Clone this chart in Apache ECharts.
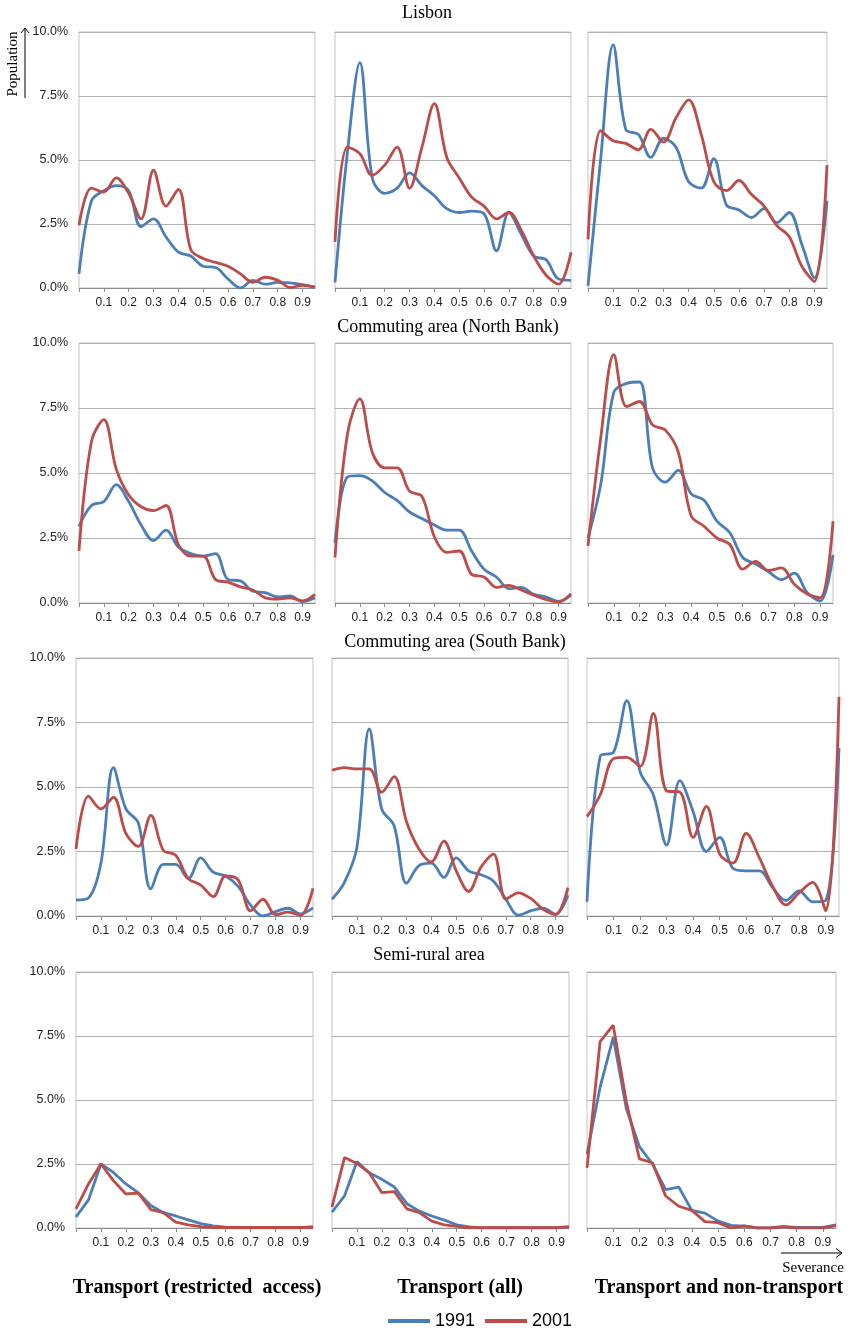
<!DOCTYPE html>
<html>
<head>
<meta charset="utf-8">
<script src="https://cdn.jsdelivr.net/npm/echarts@6/dist/echarts.min.js"></script>
<style>
html,body{margin:0;padding:0;background:#fff;}
#chart{width:853px;height:1330px;}
</style>
</head>
<body>
<div id="chart"></div>
<script>
// Severance classes (x categories)
const severance = [0, 0.05, 0.1, 0.15, 0.2, 0.25, 0.3, 0.35, 0.4, 0.45, 0.5, 0.55, 0.6, 0.65, 0.7, 0.75, 0.8, 0.85, 0.9, 0.95];
const xTickLabels = [0.1, 0.2, 0.3, 0.4, 0.5, 0.6, 0.7, 0.8, 0.9];
const yTicks = [0, 2.5, 5, 7.5, 10];
const years = ['1991', '2001'];
const areaTitles = ['Lisbon', 'Commuting area (North Bank)', 'Commuting area (South Bank)', 'Semi-rural area'];
const columnTitles = ['Transport (restricted  access)', 'Transport (all)', 'Transport and non-transport'];

// Population share (%) per severance class
// Lisbon
const lisbonRestricted1991 = [0.55, 3.4, 3.8, 4.0, 3.8, 2.4, 2.7, 2.0, 1.4, 1.25, 0.85, 0.8, 0.35, 0.0, 0.3, 0.15, 0.22, 0.2, 0.13, 0.03];
const lisbonRestricted2001 = [2.45, 3.9, 3.75, 4.3, 3.7, 2.7, 4.6, 3.2, 3.85, 1.5, 1.15, 1.0, 0.85, 0.55, 0.22, 0.42, 0.3, 0.02, 0.1, 0.03];
const lisbonAll1991 = [0.22, 5.3, 8.8, 4.3, 3.7, 3.9, 4.5, 4.0, 3.6, 3.1, 2.95, 3.0, 2.9, 1.45, 2.95, 2.1, 1.25, 1.1, 0.35, 0.3];
const lisbonAll2001 = [1.8, 5.5, 5.25, 4.4, 4.8, 5.5, 3.9, 5.5, 7.2, 5.1, 4.3, 3.55, 3.2, 2.7, 2.95, 2.25, 1.25, 0.5, 0.15, 1.4];
const lisbonNonT1991 = [0.08, 5.0, 9.5, 6.2, 6.0, 5.1, 5.85, 5.5, 4.15, 3.9, 5.05, 3.25, 3.05, 2.75, 3.1, 2.55, 2.95, 1.7, 0.4, 3.4];
const lisbonNonT2001 = [1.9, 6.15, 5.75, 5.65, 5.4, 6.2, 5.7, 6.65, 7.35, 6.0, 4.15, 3.8, 4.2, 3.65, 3.2, 2.45, 2.0, 0.85, 0.25, 4.8];
// Commuting area (North Bank)
const northRestricted1991 = [2.95, 3.75, 3.9, 4.55, 3.9, 3.0, 2.4, 2.8, 2.15, 1.9, 1.8, 1.9, 0.9, 0.85, 0.45, 0.4, 0.23, 0.27, 0.05, 0.2];
const northRestricted2001 = [2.0, 6.2, 7.05, 5.15, 4.15, 3.7, 3.55, 3.75, 2.25, 1.8, 1.8, 0.9, 0.8, 0.62, 0.5, 0.2, 0.15, 0.2, 0.08, 0.33];
const northAll1991 = [2.3, 4.85, 4.9, 4.7, 4.25, 3.95, 3.5, 3.25, 3.0, 2.8, 2.8, 2.0, 1.3, 1.0, 0.55, 0.6, 0.33, 0.23, 0.06, 0.3];
const northAll2001 = [1.75, 6.5, 7.85, 5.8, 5.2, 5.2, 4.3, 4.1, 2.55, 1.95, 2.0, 1.1, 1.0, 0.6, 0.68, 0.5, 0.3, 0.13, 0.04, 0.36];
const northNonT1991 = [2.5, 4.6, 8.1, 8.45, 8.5, 5.2, 4.65, 5.1, 4.2, 3.95, 3.15, 2.7, 1.75, 1.5, 1.2, 0.9, 1.15, 0.4, 0.08, 1.85];
const northNonT2001 = [2.2, 6.4, 9.55, 7.55, 7.75, 6.85, 6.65, 5.8, 3.35, 2.95, 2.5, 2.25, 1.3, 1.6, 1.25, 1.35, 0.72, 0.35, 0.2, 3.15];
// Commuting area (South Bank)
const southRestricted1991 = [0.62, 0.7, 2.05, 5.75, 4.15, 3.6, 1.05, 2.0, 2.0, 1.45, 2.25, 1.7, 1.55, 1.15, 0.42, 0.0, 0.17, 0.3, 0.08, 0.32];
const southRestricted2001 = [2.6, 4.65, 4.15, 4.6, 3.2, 2.7, 3.9, 2.55, 2.35, 1.45, 1.2, 0.75, 1.55, 1.4, 0.2, 0.65, 0.05, 0.15, 0.03, 1.07];
const southAll1991 = [0.65, 1.3, 2.65, 7.25, 4.15, 3.5, 1.27, 1.95, 2.05, 1.5, 2.25, 1.75, 1.6, 1.35, 0.65, 0.03, 0.2, 0.3, 0.06, 0.8];
const southAll2001 = [5.65, 5.75, 5.7, 5.7, 4.8, 5.4, 3.65, 2.6, 2.1, 2.9, 1.75, 0.95, 1.9, 2.4, 0.65, 0.9, 0.68, 0.26, 0.06, 1.1];
const southNonT1991 = [0.55, 6.2, 6.35, 8.35, 5.6, 4.7, 2.75, 5.25, 4.05, 2.5, 3.05, 1.85, 1.75, 1.75, 1.1, 0.6, 0.97, 0.55, 0.6, 6.5];
const southNonT2001 = [3.85, 4.7, 6.1, 6.15, 5.8, 7.85, 4.85, 4.8, 3.05, 4.25, 2.4, 2.05, 3.2, 2.25, 1.15, 0.43, 0.9, 1.3, 0.2, 8.5];
// Semi-rural area
const ruralRestricted1991 = [0.43, 1.1, 2.5, 2.17, 1.72, 1.37, 0.88, 0.6, 0.47, 0.32, 0.17, 0.08, 0.03, 0.01, 0.01, 0.01, 0.01, 0.01, 0.01, 0.05];
const ruralRestricted2001 = [0.75, 1.72, 2.5, 1.85, 1.33, 1.36, 0.72, 0.6, 0.23, 0.12, 0.05, 0.02, 0.02, 0.02, 0.02, 0.02, 0.02, 0.02, 0.02, 0.02];
const ruralAll1991 = [0.62, 1.25, 2.6, 2.15, 1.9, 1.6, 0.95, 0.66, 0.47, 0.31, 0.12, 0.04, 0.01, 0.01, 0.01, 0.01, 0.01, 0.01, 0.01, 0.04];
const ruralAll2001 = [0.82, 2.75, 2.52, 2.15, 1.38, 1.42, 0.75, 0.6, 0.27, 0.12, 0.06, 0.01, 0.01, 0.01, 0.01, 0.01, 0.01, 0.01, 0.01, 0.04];
const ruralNonT1991 = [2.88, 5.5, 7.45, 4.67, 3.18, 2.5, 1.5, 1.6, 0.69, 0.58, 0.27, 0.1, 0.07, 0.0, 0.0, 0.05, 0.02, 0.02, 0.02, 0.12];
const ruralNonT2001 = [2.35, 7.28, 7.92, 4.93, 2.7, 2.55, 1.25, 0.85, 0.69, 0.25, 0.21, 0.0, 0.08, 0.0, 0.0, 0.05, 0.0, 0.0, 0.0, 0.09];

const panels = [
  [[lisbonRestricted1991, lisbonRestricted2001], [lisbonAll1991, lisbonAll2001], [lisbonNonT1991, lisbonNonT2001]],
  [[northRestricted1991, northRestricted2001], [northAll1991, northAll2001], [northNonT1991, northNonT2001]],
  [[southRestricted1991, southRestricted2001], [southAll1991, southAll2001], [southNonT1991, southNonT2001]],
  [[ruralRestricted1991, ruralRestricted2001], [ruralAll1991, ruralAll2001], [ruralNonT1991, ruralNonT2001]]
];

// Layout (pixels)
const rowBox = [[32, 288], [343, 603], [658, 916], [972, 1228]];
const colBox = [
  [[79, 315], [335, 571], [588, 827]],
  [[79, 315], [335, 571], [588, 833]],
  [[76, 313], [332, 568], [587, 839]],
  [[76, 313], [332, 569], [587, 836]]
];
const colors = ['#4A7EBB', '#BE4B48'];

const grids = [], xAxes = [], yAxes = [], series = [];
panels.forEach((row, r) => {
  row.forEach((pair, c) => {
    const idx = r * 3 + c;
    const [l, rr] = colBox[r][c];
    const [t, b] = rowBox[r];
    grids.push({left: l, top: t, width: rr - l, height: b - t, show: true,
      borderColor: '#C4C4C4', borderWidth: 1, backgroundColor: '#fff'});
    xAxes.push({type: 'value', gridIndex: idx, min: 0, max: 0.95, interval: 0.1,
      axisLine: {show: true, onZero: false, lineStyle: {color: '#8C8C8C', width: 1}},
      axisTick: {show: true, length: 4, lineStyle: {color: '#8C8C8C'},
        customValues: [0].concat(xTickLabels)},
      axisLabel: {show: true, margin: 9, color: '#222', fontSize: 12,
        fontFamily: 'Liberation Sans, Arial, sans-serif',
        customValues: xTickLabels,
        formatter: v => (v > 0.001 && v < 0.94) ? v.toFixed(1) : ''},
      splitLine: {show: false}});
    yAxes.push({type: 'value', gridIndex: idx, min: 0, max: 10, interval: 2.5,
      axisLine: {show: false}, axisTick: {show: false},
      axisLabel: {show: c === 0, margin: 11, color: '#222', fontSize: 12.5,
        fontFamily: 'Liberation Sans, Arial, sans-serif',
        formatter: v => v.toFixed(1) + '%'},
      splitLine: {show: true, lineStyle: {color: '#B0B0B0', width: 1}}});
    pair.forEach((vals, k) => {
      series.push({name: years[k], type: 'line', xAxisIndex: idx, yAxisIndex: idx,
        data: severance.map((s, i) => [s, vals[i]]),
        smooth: r < 3 ? 0.35 : false, symbol: 'none', showSymbol: false,
        lineStyle: {color: colors[k], width: 2.8}, itemStyle: {color: colors[k]},
        z: 3 + k, animation: false});
    });
  });
});

const serif = 'Liberation Serif, Times New Roman, serif';
const titleCenters = [[427, 13], [448, 327], [455, 642], [429, 955]];
const graphic = [];
areaTitles.forEach((txt, i) => {
  graphic.push({type: 'text', x: titleCenters[i][0], y: titleCenters[i][1],
    style: {text: txt, font: '18px ' + serif, fill: '#000', align: 'center', verticalAlign: 'middle',
      textAlign: 'center', textVerticalAlign: 'middle'}});
});
const colTitleX = [197, 460, 719];
columnTitles.forEach((txt, i) => {
  graphic.push({type: 'text', x: colTitleX[i], y: 1288,
    style: {text: txt, font: 'bold 20px ' + serif, fill: '#000', align: 'center', verticalAlign: 'middle',
      textAlign: 'center', textVerticalAlign: 'middle'}});
});
// Population label with upward arrow
graphic.push({type: 'text', x: 13, y: 64, rotation: Math.PI / 2,
  style: {text: 'Population', font: '15px ' + serif, fill: '#000', align: 'center', verticalAlign: 'middle',
    textAlign: 'center', textVerticalAlign: 'middle'}});
graphic.push({type: 'polyline', shape: {points: [[25, 98], [25, 28]]}, style: {stroke: '#000', lineWidth: 1, fill: null}});
graphic.push({type: 'polyline', shape: {points: [[21, 33], [25, 28], [29, 33]]}, style: {stroke: '#000', lineWidth: 1, fill: null}});
// Severance label with right arrow
graphic.push({type: 'polyline', shape: {points: [[781, 1253], [842, 1253]]}, style: {stroke: '#000', lineWidth: 1, fill: null}});
graphic.push({type: 'polyline', shape: {points: [[836, 1248.5], [842, 1253], [836, 1257.5]]}, style: {stroke: '#000', lineWidth: 1, fill: null}});
graphic.push({type: 'text', x: 813, y: 1268,
  style: {text: 'Severance', font: '15px ' + serif, fill: '#000', align: 'center', verticalAlign: 'middle',
    textAlign: 'center', textVerticalAlign: 'middle'}});

const chart = echarts.init(document.getElementById('chart'), null, {renderer: 'canvas', width: 853, height: 1330});
chart.setOption({
  backgroundColor: '#fff',
  animation: false,
  grid: grids, xAxis: xAxes, yAxis: yAxes, series: series,
  legend: {data: years, left: 383, top: 1307, icon: 'rect', itemWidth: 42, itemHeight: 4, itemGap: 10,
    textStyle: {fontSize: 18, color: '#000', fontFamily: 'Liberation Sans, Arial, sans-serif', padding: [0, 0, 0, 0]},
    selectedMode: false},
  graphic: graphic
});
</script>
</body>
</html>
